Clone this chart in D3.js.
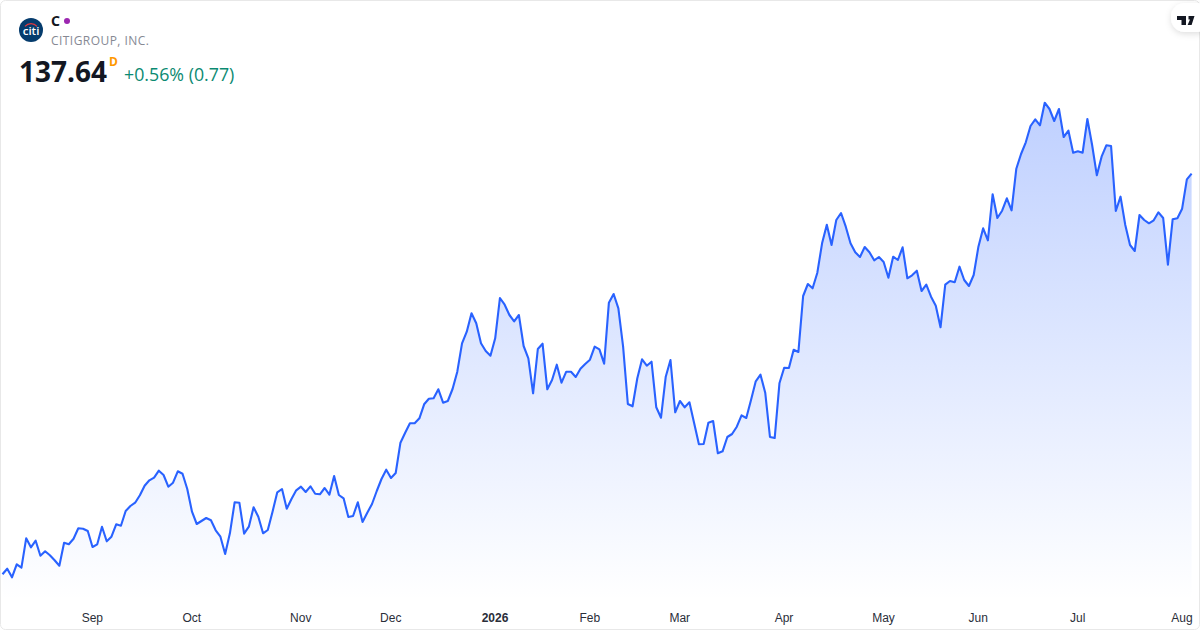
<!DOCTYPE html>
<html>
<head>
<meta charset="utf-8">
<script src="https://cdn.jsdelivr.net/npm/d3@7"></script>
<style>
  html, body { margin: 0; padding: 0; background: #fff; }
  svg { display: block; font-family: "Open Sans", "Noto Sans", sans-serif; }
  .tick text { font-size: 12px; fill: #2a2e39; }
</style>
</head>
<body>
<div id="chart"></div>
<script>
// daily closes, Aug 2025 - Aug 2026
const closes = [
  97.57, 98.13, 97.27, 98.57, 98.23, 101.17, 100.27, 100.93, 99.43, 99.87,
  99.47, 98.97, 98.43, 100.73, 100.57, 101.13, 102.17, 102.13, 101.9, 100.3,
  100.57, 102.33, 100.87, 101.33, 102.57, 102.43, 103.9, 104.4, 104.73, 105.47,
  106.43, 106.97, 107.23, 107.93, 107.5, 106.33, 106.73, 107.87, 107.63, 106.1,
  103.83, 102.6, 102.9, 103.2, 102.97, 101.97, 101.33, 99.6, 101.67, 104.77,
  104.73, 101.63, 102.33, 104.27, 103.33, 101.67, 102.0, 103.83, 105.77, 106.1,
  104.13, 105.1, 105.97, 106.33, 105.8, 106.37, 105.63, 105.57, 106.2, 105.53,
  107.4, 105.5, 105.17, 103.3, 103.4, 104.77, 102.8, 103.73, 104.6, 105.9,
  107.1, 108.03, 107.2, 107.7, 110.73, 111.73, 112.67, 112.67, 113.17, 114.57,
  115.13, 115.17, 116.07, 114.73, 114.9, 116.1, 117.83, 120.67, 121.83, 123.67,
  122.67, 120.67, 119.9, 119.43, 121.17, 125.2, 124.53, 123.5, 122.87, 123.5,
  120.4, 119.17, 115.67, 120.1, 120.63, 116.07, 117.0, 118.53, 116.73, 117.83,
  117.83, 117.3, 118.13, 118.6, 119.03, 120.33, 120.07, 118.63, 124.73, 125.6,
  124.17, 120.33, 114.6, 114.37, 117.17, 119.07, 118.43, 118.83, 114.27, 113.23,
  117.33, 119.0, 113.77, 114.9, 114.27, 114.77, 112.67, 110.57, 110.6, 112.73,
  112.9, 109.67, 109.87, 111.3, 111.6, 112.33, 113.47, 113.2, 115.0, 116.87,
  117.53, 115.73, 111.3, 111.2, 116.67, 118.23, 118.2, 120.03, 119.8, 125.4,
  126.6, 126.17, 127.73, 130.67, 132.53, 130.5, 133.0, 133.7, 132.33, 130.67,
  129.77, 129.3, 130.3, 129.77, 128.97, 129.3, 128.8, 127.23, 129.33, 129.0,
  130.27, 127.17, 127.47, 127.93, 125.9, 126.53, 125.33, 124.43, 122.27, 126.53,
  126.9, 126.77, 128.33, 127.0, 126.4, 127.5, 130.33, 132.17, 130.97, 135.57,
  133.2, 133.93, 135.17, 133.97, 138.13, 139.6, 140.77, 142.4, 143.07, 142.47,
  144.73, 144.1, 142.9, 144.1, 141.3, 141.93, 139.73, 139.87, 139.73, 143.1,
  140.5, 137.47, 139.33, 140.47, 140.4, 133.9, 135.33, 132.5, 130.5, 129.9,
  133.5, 133.0, 132.67, 132.97, 133.77, 133.2, 128.53, 133.07, 133.17, 134.13,
  137.07, 137.64
];

// index of the first trading day of each month
const tickIndex = [19, 40, 63, 82, 104, 124, 143, 165, 186, 206, 227, 249];
const tickLabels = ["Sep", "Oct", "Nov", "Dec", "2026", "Feb", "Mar", "Apr", "May", "Jun", "Jul", "Aug"];

const symbol = "C";
const company = "CITIGROUP, INC.";
const lastPrice = "137.64";
const change = "+0.56% (0.77)";

const width = 1200, height = 630;

const svg = d3.select("#chart").append("svg")
  .attr("width", width)
  .attr("height", height);

const x = d3.scaleLinear()
  .domain([0, closes.length - 1])
  .range([2.5, 1191.6]);

const y = d3.scaleLinear()
  .domain([155, 92])
  .range([0, 630]);

const defs = svg.append("defs");

const grad = defs.append("linearGradient")
  .attr("id", "fill")
  .attr("gradientUnits", "userSpaceOnUse")
  .attr("x1", 0).attr("x2", 0)
  .attr("y1", y(d3.max(closes))).attr("y2", 600);
grad.append("stop").attr("offset", 0).attr("stop-color", "#2962ff").attr("stop-opacity", 0.3);
grad.append("stop").attr("offset", 1).attr("stop-color", "#2962ff").attr("stop-opacity", 0.0);

const shadow = defs.append("filter").attr("id", "pill")
  .attr("x", "-30%").attr("y", "-30%").attr("width", "160%").attr("height", "180%");
shadow.append("feDropShadow")
  .attr("dx", 0).attr("dy", 2).attr("stdDeviation", 3)
  .attr("flood-color", "#000").attr("flood-opacity", 0.13);

// area + line
const area = d3.area()
  .x((d, i) => x(i))
  .y0(600)
  .y1(d => y(d));

const line = d3.line()
  .x((d, i) => x(i))
  .y(d => y(d));

svg.append("path")
  .datum(closes)
  .attr("d", area)
  .attr("fill", "url(#fill)");

svg.append("path")
  .datum(closes)
  .attr("d", line)
  .attr("fill", "none")
  .attr("stroke", "#2962ff")
  .attr("stroke-width", 2.1)
  .attr("stroke-linejoin", "round");

// month labels
const axis = svg.append("g")
  .attr("transform", "translate(-0.7,606)")
  .call(d3.axisBottom(x)
    .tickValues(tickIndex)
    .tickFormat((d, i) => tickLabels[i])
    .tickSize(0)
    .tickPadding(0));
axis.select(".domain").remove();
axis.selectAll("text")
  .attr("y", 7)
  .attr("font-family", "inherit")
  .style("font-weight", (d, i) => tickLabels[i] === "2026" ? 700 : 400);

// header
const logo = svg.append("g").attr("transform", "translate(31,30)");
logo.append("circle").attr("r", 12).attr("fill", "#053c6d");
logo.append("path")
  .attr("d", "M-6,-3.6 A8,8 0 0 1 6,-3.6")
  .attr("fill", "none")
  .attr("stroke", "#e0383e")
  .attr("stroke-width", 1.2);
logo.append("text")
  .attr("y", 5)
  .attr("text-anchor", "middle")
  .attr("font-size", 11.5)
  .attr("font-weight", 600)
  .attr("fill", "#fff")
  .text("citi");

svg.append("text")
  .attr("x", 51).attr("y", 26)
  .attr("font-size", 14)
  .attr("font-weight", 700)
  .attr("font-family", "Noto Sans")
  .attr("fill", "#131722")
  .text(symbol);

svg.append("circle")
  .attr("cx", 67).attr("cy", 21)
  .attr("r", 3)
  .attr("fill", "#9c27b0");

svg.append("text")
  .attr("x", 51).attr("y", 45)
  .attr("font-size", 12)
  .attr("letter-spacing", 0.45)
  .attr("fill", "#868993")
  .text(company);

svg.append("text")
  .attr("x", 19).attr("y", 82)
  .attr("font-size", 28)
  .attr("font-weight", 700)
  .attr("fill", "#131722")
  .text(lastPrice);

svg.append("text")
  .attr("x", 109).attr("y", 66)
  .attr("font-size", 12)
  .attr("font-weight", 700)
  .attr("fill", "#ff9800")
  .text("D");

svg.append("text")
  .attr("x", 124).attr("y", 81)
  .attr("font-size", 17.8)
  .attr("fill", "#0b8a72")
  .text(change);

// card border
svg.append("rect")
  .attr("x", 0.5).attr("y", 0.5)
  .attr("width", width - 1).attr("height", height - 1)
  .attr("rx", 5)
  .attr("fill", "none")
  .attr("stroke", "#e8e8e8");

// tradingview badge
svg.append("rect")
  .attr("x", 1171).attr("y", 3)
  .attr("width", 40).attr("height", 29)
  .attr("rx", 14)
  .attr("fill", "#fff")
  .attr("filter", "url(#pill)");
svg.append("path")
  .attr("d", "M1177,16 h9 v9 h-4.5 v-5 h-4.5 z M1194.5,16 h-6 v3.6 h1.5 l-2.4,5.4 h4 z")
  .attr("fill", "#131722");
</script>
</body>
</html>
